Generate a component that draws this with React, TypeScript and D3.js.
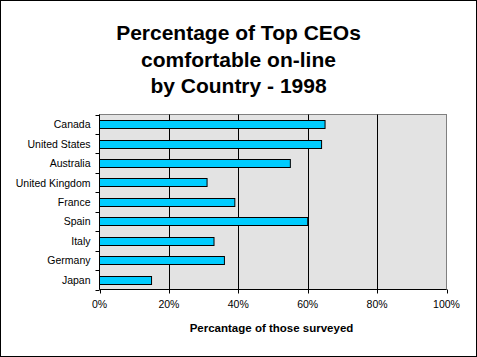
import React from "react";
import * as d3 from "d3";

const categories = ["Canada", "United States", "Australia", "United Kingdom", "France", "Spain", "Italy", "Germany", "Japan"];
const values = [65, 64, 55, 31, 39, 60, 33, 36, 15];
const xTicks = [0, 20, 40, 60, 80, 100];
const titleLines = ["Percentage of Top CEOs", "comfortable on-line", "by Country - 1998"];
const xAxisTitle = "Percantage of those surveyed";

const W = 477, H = 357;
const plot = { left: 99.5, right: 446.5, top: 114.5, bottom: 289.5 };

export default function App() {
  const x = d3.scaleLinear().domain([0, 100]).range([plot.left, plot.right]);
  const y = d3.scaleBand().domain(categories).range([plot.top, plot.bottom]).paddingInner(0.58).paddingOuter(0.29);
  const step = (plot.bottom - plot.top) / categories.length;
  const font = "Arial, 'Liberation Sans', sans-serif";
  return (
    <svg width={W} height={H} style={{ position: "absolute", left: 0, top: 0, display: "block" }} fontFamily={font}>
      <rect x={0.5} y={0.5} width={W - 1} height={H - 1} fill="#fff" stroke="#000" />
      {titleLines.map((t, i) => (
        <text key={t} x={238.5} y={40 + i * 26.5} textAnchor="middle" fontWeight="bold" fontSize={21} fill="#000">{t}</text>
      ))}
      <rect x={plot.left} y={plot.top} width={plot.right - plot.left} height={plot.bottom - plot.top} fill="#e3e3e3" stroke="#808080" />
      {xTicks.slice(1, -1).map(t => (
        <line key={t} x1={Math.round(x(t)) + 0.5} x2={Math.round(x(t)) + 0.5} y1={plot.top} y2={plot.bottom} stroke="#000" />
      ))}
      {categories.map((c, i) => (
        <rect key={c} x={plot.left} y={Math.round(y(c)!) + 0.5} width={x(values[i]) - plot.left} height={Math.round(y.bandwidth())} fill="#00ccff" stroke="#000" />
      ))}
      <line x1={plot.left} x2={plot.left} y1={plot.top} y2={plot.bottom} stroke="#000" />
      <line x1={plot.left} x2={plot.right} y1={plot.bottom} y2={plot.bottom} stroke="#000" />
      {d3.range(categories.length + 1).map(i => {
        const yy = Math.round(plot.top + i * step) + 0.5;
        return <line key={i} x1={plot.left - 4} x2={plot.left} y1={yy} y2={yy} stroke="#000" />;
      })}
      {xTicks.map(t => (
        <line key={t} x1={Math.round(x(t)) + 0.5} x2={Math.round(x(t)) + 0.5} y1={plot.bottom} y2={plot.bottom + 4} stroke="#000" />
      ))}
      {categories.map(c => (
        <text key={c} x={90.5} y={y(c)! + y.bandwidth() / 2 + 4} textAnchor="end" fontSize={10.5} fill="#000">{c}</text>
      ))}
      {xTicks.map(t => (
        <text key={t} x={x(t)} y={308} textAnchor="middle" fontSize={10.5} fill="#000">{t + "%"}</text>
      ))}
      <text x={271.5} y={332} textAnchor="middle" fontWeight="bold" fontSize={11.5} fill="#000">{xAxisTitle}</text>
    </svg>
  );
}
